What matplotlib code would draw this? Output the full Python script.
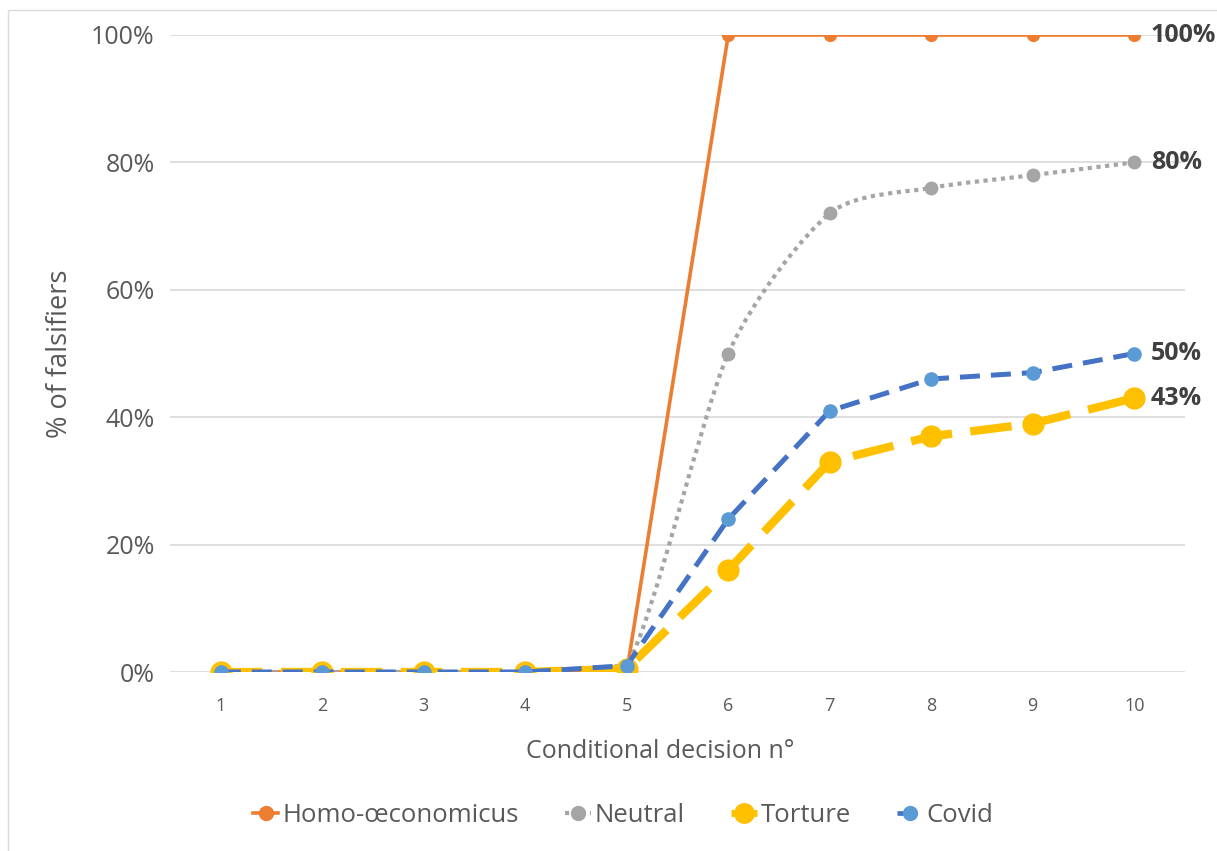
import matplotlib.pyplot as plt
import numpy as np
from matplotlib.lines import Line2D
from matplotlib.patches import PathPatch, Rectangle
from matplotlib.path import Path
from matplotlib.ticker import PercentFormatter

plt.rcParams["font.family"] = ["Open Sans", "DejaVu Sans"]

decisions = [1, 2, 3, 4, 5, 6, 7, 8, 9, 10]
homo = [0, 0, 0, 0, 0, 100, 100, 100, 100, 100]
neutral = [0, 0, 0, 0, 1, 50, 72, 76, 78, 80]
torture = [0, 0, 0, 0, 0.5, 16, 33, 37, 39, 43]
covid = [0, 0, 0, 0, 1, 24, 41, 46, 47, 50]
series_names = ["Homo-œconomicus", "Neutral", "Torture", "Covid"]
end_labels = ["100%", "80%", "43%", "50%"]

ORANGE, GREY, YELLOW, BLUE, LBLUE = "#ED7D31", "#A5A5A5", "#FFC000", "#4472C4", "#5B9BD5"


def smooth_path(xs, ys, start=4, k=1 / 8):
    # straight up to `start`, then smoothed bezier segments (like Excel's smoothed line)
    pts = np.column_stack([xs, ys]).astype(float)
    verts = [pts[0]]
    codes = [Path.MOVETO]
    for i in range(1, len(pts)):
        if i <= start:
            verts.append(pts[i])
            codes.append(Path.LINETO)
            continue
        p0 = pts[i - 2] if i >= 2 else pts[i - 1]
        p1, p2 = pts[i - 1], pts[i]
        p3 = pts[i + 1] if i + 1 < len(pts) else pts[i]
        c1 = p1 + (p2 - p0) * k
        c2 = p2 - (p3 - p1) * k
        verts += [c1, c2, p2]
        codes += [Path.CURVE4] * 3
    return Path(verts, codes)


fig = plt.figure(figsize=(12.17, 8.51), dpi=100)
ax = fig.add_axes([170 / 1217, 1 - 672 / 851, (1185 - 170) / 1217, (672 - 35) / 851])

ax.plot(decisions, homo, color=ORANGE, lw=2.6, marker="o", ms=8.5, zorder=3)

neutral_line = PathPatch(smooth_path(decisions, neutral), fill=False, edgecolor=GREY,
                         lw=3, ls=(0, (1, 1.1)), capstyle="butt", zorder=4)
ax.add_patch(neutral_line)
ax.plot(decisions, neutral, ls="none", marker="o", ms=9, color=GREY, zorder=4)

ax.plot(decisions, torture, color=YELLOW, lw=6, ls=(0, (5, 2.2)),
        marker="o", ms=15, zorder=5)
ax.plot(decisions, covid, color=BLUE, lw=3.6, ls=(0, (4, 2.2)),
        marker="o", ms=9.5, mfc=LBLUE, mec=LBLUE, zorder=6)

for series, text in zip([homo, neutral, torture, covid], end_labels):
    ax.annotate(text, (decisions[-1], series[-1]), xytext=(12, 0),
                textcoords="offset points", va="center", ha="left",
                fontsize=18, fontweight="bold", color="#404040",
                annotation_clip=False)

ax.set_xlim(0.5, 10.5)
ax.set_ylim(0, 100)
ax.set_xticks(decisions)
ax.set_yticks([0, 20, 40, 60, 80, 100])
ax.yaxis.set_major_formatter(PercentFormatter(decimals=0))
ax.grid(axis="y", color="#D9D9D9", lw=1.2)
ax.set_axisbelow(True)
for spine in ax.spines.values():
    spine.set_visible(False)
ax.tick_params(axis="both", length=0, colors="#595959")
ax.tick_params(axis="y", labelsize=18, pad=11)
ax.tick_params(axis="x", labelsize=13, pad=18)
ax.set_xlabel("Conditional decision n°", fontsize=18, color="#595959")
ax.xaxis.set_label_coords(0.483, -0.105)
ax.set_ylabel("% of falsifiers", fontsize=19.5, color="#595959", labelpad=12)

handles = [
    Line2D([], [], color=ORANGE, lw=2.6, marker="o", ms=10),
    Line2D([], [], color=GREY, lw=3, ls=(0, (1, 1)), marker="o", ms=10),
    Line2D([], [], color=YELLOW, lw=5, ls=(0, (4, 1.8)), marker="o", ms=14),
    Line2D([], [], color=BLUE, lw=3.4, ls=(0, (4, 2.2)), marker="o", ms=10,
           mfc=LBLUE, mec=LBLUE),
]
fig.legend(handles, series_names, loc="center", bbox_to_anchor=(623 / 1217, 1 - 815 / 851),
           ncol=4, frameon=False, fontsize=18.5, labelcolor="#595959",
           handlelength=1.0, handletextpad=0.15, columnspacing=1.8)

fig.patches.append(Rectangle((8 / 1217, -0.01), 1.1, 1 - 10 / 851 + 0.01,
                             transform=fig.transFigure, fill=False,
                             edgecolor="#D9D9D9", lw=1))

fig.savefig("out.png", dpi=100)
